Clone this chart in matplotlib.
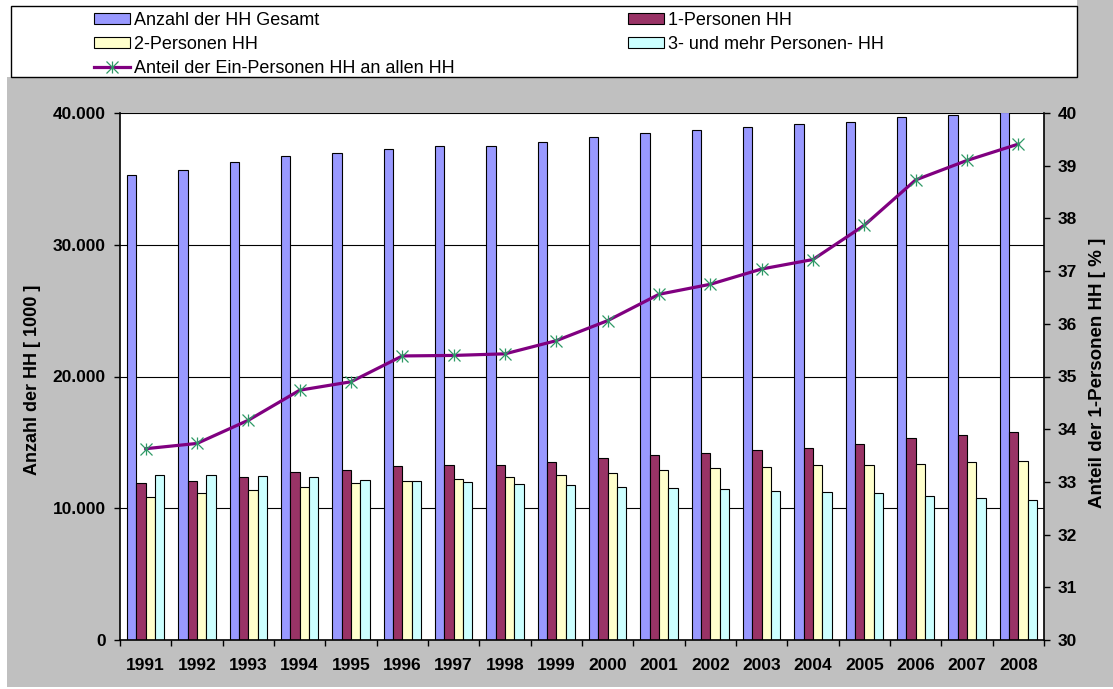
import matplotlib
matplotlib.use("Agg")
import matplotlib.pyplot as plt
import numpy as np
from matplotlib.lines import Line2D
from matplotlib.patches import Patch, Rectangle
from matplotlib.ticker import FuncFormatter

# Haushalte in Deutschland, Werte in 1000, Anteil in %
years = [str(y) for y in range(1991, 2009)]
hh_total = [35270, 35710, 36250, 36740, 36960, 37280, 37470, 37530, 37800,
            38150, 38500, 38720, 38970, 39130, 39290, 39730, 39860, 40050]
hh_1 = [11880, 12040, 12390, 12750, 12880, 13180, 13260, 13320, 13480,
        13780, 14050, 14190, 14400, 14540, 14860, 15350, 15570, 15760]
hh_2 = [10870, 11140, 11390, 11630, 11880, 12040, 12230, 12390, 12550,
        12690, 12880, 13040, 13150, 13320, 13260, 13370, 13480, 13610]
hh_3 = [12530, 12500, 12470, 12340, 12170, 12040, 11980, 11850, 11740,
        11630, 11500, 11440, 11330, 11220, 11140, 10950, 10760, 10630]
share_1 = [33.63, 33.73, 34.17, 34.74, 34.90, 35.39, 35.40, 35.43, 35.68,
           36.06, 36.56, 36.75, 37.04, 37.22, 37.87, 38.73, 39.10, 39.41]

labels = ["Anzahl der HH Gesamt", "1-Personen HH", "2-Personen HH",
          "3- und mehr Personen- HH", "Anteil der Ein-Personen HH an allen HH"]
colors = ["#9999FF", "#993366", "#FFFFCC", "#CCFFFF"]
line_color = "#800080"
marker_color = "#2E9966"

plt.rcParams["font.family"] = ["Liberation Sans", "DejaVu Sans"]

W, H = 1113, 689
fig = plt.figure(figsize=(W / 100, H / 100), dpi=100, facecolor="white")

# grey chart area, white strip above the legend, legend frame
fig.add_artist(Rectangle((7 / W, 2 / H), 1 - 7 / W, 1 - 2 / H, transform=fig.transFigure,
                         facecolor="#C0C0C0", edgecolor="none", zorder=-10))
fig.add_artist(Rectangle((0, 1 - 77 / H), 1077 / W, 77 / H, transform=fig.transFigure,
                         facecolor="white", edgecolor="none", zorder=-9))
fig.add_artist(Rectangle((11 / W, 1 - 77 / H), 1066 / W, 71 / H, transform=fig.transFigure,
                         facecolor="white", edgecolor="black", lw=1.0, zorder=-8))

ax = fig.add_axes([120 / W, 1 - 640 / H, 924 / W, 527 / H])
ax.set_facecolor("white")

x = np.arange(len(years))
w = 0.183
series = [hh_total, hh_1, hh_2, hh_3]
for i, (vals, col) in enumerate(zip(series, colors)):
    ax.bar(x + (i - 1.5) * w, vals, w, color=col, edgecolor="black", lw=0.8, zorder=2)

ax.set_xlim(-0.5, len(years) - 0.5)
ax.set_ylim(0, 40000)
ax.set_yticks(range(0, 40001, 10000))
ax.yaxis.set_major_formatter(FuncFormatter(lambda v, p: f"{int(v):,}".replace(",", ".")))
ax.grid(axis="y", color="black", lw=0.8)
ax.set_axisbelow(True)

ax.set_xticks(x)
ax.set_xticklabels(years)
ax.set_xticks(np.arange(-0.5, len(years)), minor=True)
ax.tick_params(axis="x", which="major", length=0, pad=13, labelsize=12.5)
ax.tick_params(axis="x", which="minor", length=4.3, width=1.0, direction="out")
ax.tick_params(axis="y", length=4.3, width=1.0, direction="out", pad=5.8, labelsize=12.5)
for lab in ax.get_xticklabels() + ax.get_yticklabels():
    lab.set_fontweight("bold")

for side in ("top", "right"):
    ax.spines[side].set_visible(False)
for side in ("left", "bottom"):
    ax.spines[side].set_linewidth(1.2)

ax.set_ylabel("Anzahl der HH [ 1000 ]", fontsize=13, fontweight="bold", va="center")
ax.yaxis.set_label_coords(-0.0952, 0.493)

ax2 = ax.twinx()
ax2.plot(x, share_1, color=line_color, lw=2.3, marker="x", ms=8,
         mec=marker_color, mew=0.9, zorder=3)
ax2.plot(x, share_1, ls="none", marker="|", ms=9, mec=marker_color, mew=0.9, zorder=4)
ax2.set_ylim(30, 40)
ax2.set_yticks(range(30, 41))
ax2.tick_params(axis="y", length=4.3, width=1.0, direction="out", pad=5.8, labelsize=12.5)
for lab in ax2.get_yticklabels():
    lab.set_fontweight("bold")
for side in ("top", "left", "bottom"):
    ax2.spines[side].set_visible(False)
ax2.spines["right"].set_linewidth(1.2)
ax2.set_ylabel("Anteil der 1-Personen HH [ % ]", fontsize=13.5, fontweight="bold", va="center")
ax2.yaxis.set_label_coords(1.0574, 0.507)

# legend, two columns, row order as in the original
bar_handles = [Patch(facecolor=c, edgecolor="black", lw=0.8) for c in colors]
line_handle = (Line2D([], [], color=line_color, lw=2.3, marker="x", ms=8, mec=marker_color, mew=0.9),
               Line2D([], [], ls="none", marker="|", ms=9, mec=marker_color, mew=0.9))
leg_kw = dict(loc="upper left", frameon=False, borderpad=0, borderaxespad=0,
              handlelength=2.0, handleheight=0.6, handletextpad=0.22,
              labelspacing=0.39, fontsize=13)
fig.legend([bar_handles[0], bar_handles[2], line_handle], [labels[0], labels[2], labels[4]],
           bbox_to_anchor=(94 / W, 1 - 12 / H), **leg_kw)
fig.legend([bar_handles[1], bar_handles[3]], [labels[1], labels[3]],
           bbox_to_anchor=(628 / W, 1 - 12 / H), **leg_kw)

fig.savefig("out.png", dpi=100, facecolor=fig.get_facecolor())
